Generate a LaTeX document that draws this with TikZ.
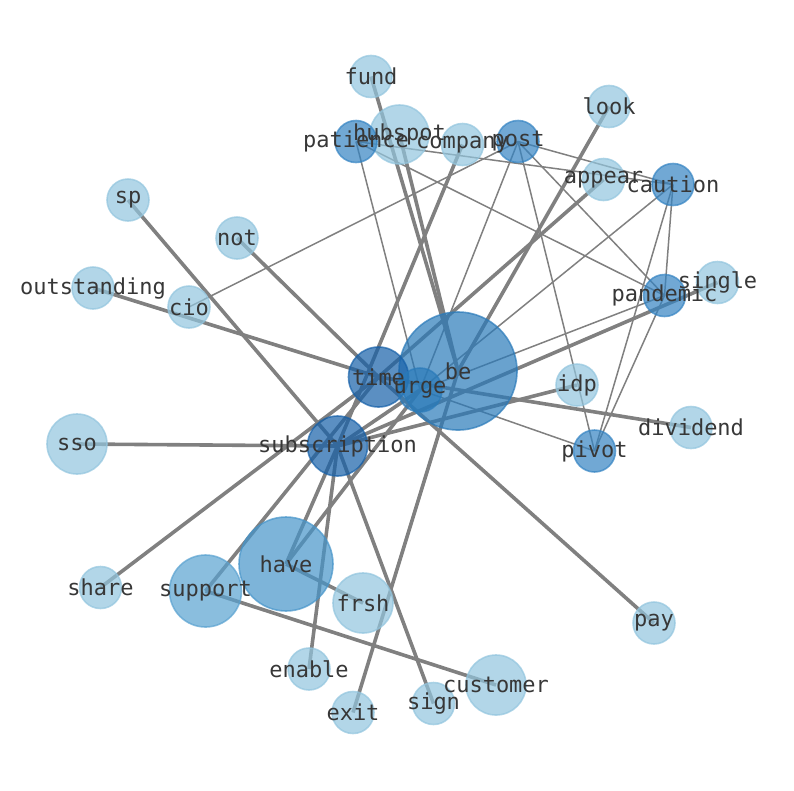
\documentclass[tikz,border=0pt]{standalone}
\usepackage{fontspec}
\newfontfamily\wordfont{DejaVu Sans Mono}
\usetikzlibrary{backgrounds}
\definecolor{clight}{RGB}{146,197,222}
\definecolor{cmid}{RGB}{52,131,194}
\definecolor{chub}{RGB}{42,122,185}
\definecolor{cdark}{RGB}{22,96,168}
\definecolor{chave}{RGB}{70,148,201}
\definecolor{csupp}{RGB}{89,162,208}
\definecolor{ctext}{RGB}{55,55,55}
\tikzset{
  word/.style={circle, inner sep=0pt, opacity=0.7, line width=1.6pt},
  lbl/.style={font=\wordfont\fontsize{22}{26}\selectfont, text=ctext, inner sep=0pt},
  wlight/.style={word, fill=clight, draw=clight},
  wmid/.style={word, fill=cmid, draw=cmid},
  whub/.style={word, fill=chub, draw=chub},
  wdark/.style={word, fill=cdark, draw=cdark},
  strong/.style={draw=gray, line width=3.6pt},
  weak/.style={draw=gray, line width=1.5pt}
}
\begin{document}
\begin{tikzpicture}[x=1pt, y=-1pt]
\useasboundingbox (0,0) rectangle (794,790);
\node[wlight, minimum size=42pt] (fund) at (371,76.5){};
\node[wlight, minimum size=42pt] (look) at (609,106.5){};
\node[wlight, minimum size=59pt] (hubspot) at (399.5,134.5){};
\node[wmid, minimum size=42pt] (patience) at (356,141.5){};
\node[wlight, minimum size=42pt] (company) at (462.5,144.5){};
\node[wmid, minimum size=42pt] (post) at (518,141.5){};
\node[wlight, minimum size=42pt] (appear) at (603.5,179.5){};
\node[wmid, minimum size=42pt] (caution) at (673,184.5){};
\node[wlight, minimum size=42pt] (sp) at (128,200){};
\node[wlight, minimum size=42pt] (not) at (237,238){};
\node[wlight, minimum size=42pt] (single) at (717.5,282.5){};
\node[wmid, minimum size=42pt] (pandemic) at (664.5,295.5){};
\node[wlight, minimum size=42pt] (outstanding) at (93,288){};
\node[wlight, minimum size=42pt] (cio) at (189,307){};
\node[whub, minimum size=118pt] (be) at (458,371){};
\node[wdark, minimum size=60pt] (time) at (378.5,377){};
\node[whub, minimum size=44pt] (urge) at (420,390){};
\node[wlight, minimum size=42pt] (idp) at (577,385){};
\node[wlight, minimum size=42pt] (dividend) at (691,427.5){};
\node[wmid, minimum size=42pt] (pivot) at (594.5,451){};
\node[wlight, minimum size=60pt] (sso) at (77,444){};
\node[wdark, minimum size=60pt] (subscription) at (337.5,446){};
\node[word, fill=chave, draw=chave, minimum size=94pt] (have) at (286,564){};
\node[wlight, minimum size=42pt] (share) at (100.5,587.5){};
\node[word, fill=csupp, draw=csupp, minimum size=72pt] (support) at (205.5,591){};
\node[wlight, minimum size=60pt] (frsh) at (363,603){};
\node[wlight, minimum size=42pt] (pay) at (654,623){};
\node[wlight, minimum size=42pt] (enable) at (309,669){};
\node[wlight, minimum size=60pt] (customer) at (496,685){};
\node[wlight, minimum size=42pt] (exit) at (353,712.5){};
\node[wlight, minimum size=42pt] (sign) at (433.5,703.5){};
% words on top of all circles
\foreach \w in {fund,look,hubspot,patience,company,post,appear,caution,sp,not,single,
  pandemic,outstanding,cio,be,time,urge,idp,dividend,pivot,sso,subscription,have,
  share,support,frsh,pay,enable,customer,exit,sign}
  \node[lbl] (\w-t) at (\w) {\w};
\begin{scope}[on background layer]
% heavy links
\draw[strong] (fund.center) -- (be.center);
\draw[strong] (hubspot.center) -- (be.center);
\draw[strong] (look.center) -- (be.center);
\draw[strong] (exit.center) -- (be.center);
\draw[strong] (company.center) -- (subscription.center);
\draw[strong] (appear.center) -- (time.center);
\draw[strong] (share.center) -- (time.center);
\draw[strong] (support.center) -- (time.center);
\draw[strong] (not.center) -- (time.center);
\draw[strong] (outstanding.center) -- (time.center);
\draw[strong] (time.center) -- (pay.center);
\draw[strong] (time.center) -- (dividend.center);
\draw[strong] (sp.center) -- (subscription.center);
\draw[strong] (sso.center) -- (subscription.center);
\draw[strong] (idp.center) -- (subscription.center);
\draw[strong] (single.center) -- (subscription.center);
\draw[strong] (enable.center) -- (subscription.center);
\draw[strong] (sign.center) -- (subscription.center);
\draw[strong] (have.center) -- (subscription.center);
\draw[strong] (urge.center) -- (subscription.center);
\draw[strong] (have.center) -- (urge.center);
\draw[strong] (have.center) -- (frsh.center);
\draw[strong] (support.center) -- (customer.center);
% light links
\draw[weak] (cio.center) -- (post.center);
\draw[weak] (post.center) -- (caution.center);
\draw[weak] (post.center) -- (urge.center);
\draw[weak] (post.center) -- (pivot.center);
\draw[weak] (post.center) -- (pandemic.center);
\draw[weak] (patience.center) -- (caution.center);
\draw[weak] (patience.center) -- (pandemic.center);
\draw[weak] (patience.center) -- (urge.center);
\draw[weak] (caution.center) -- (pandemic.center);
\draw[weak] (caution.center) -- (pivot.center);
\draw[weak] (caution.center) -- (urge.center);
\draw[weak] (pandemic.center) -- (pivot.center);
\draw[weak] (pandemic.center) -- (urge.center);
\draw[weak] (pivot.center) -- (urge.center);
\end{scope}
\end{tikzpicture}
\end{document}
